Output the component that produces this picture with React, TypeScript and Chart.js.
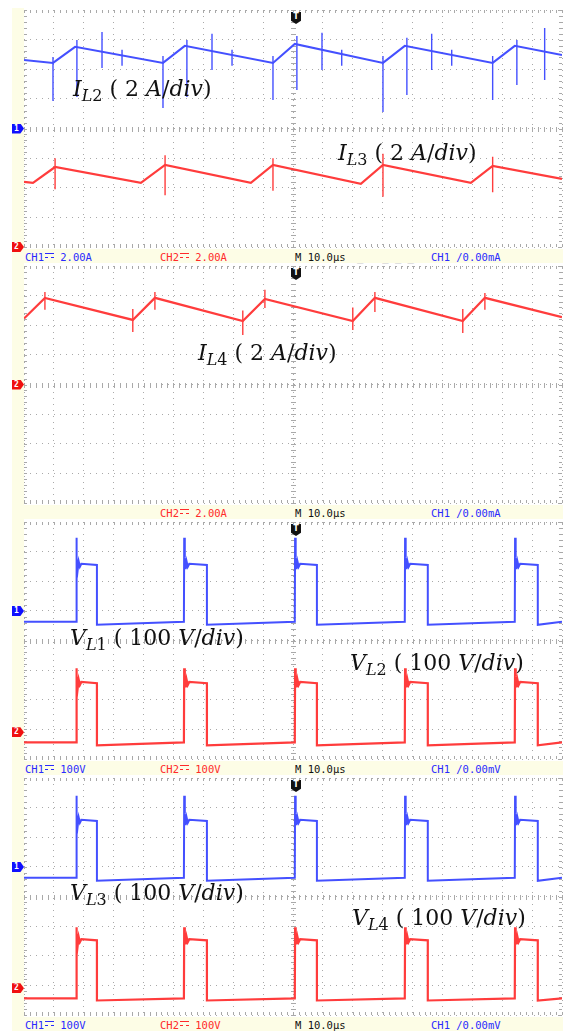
import React, { useEffect, useRef } from "react";
import { Chart, registerables } from "chart.js";

Chart.register(...registerables);

const BLUE = "#4450ff";
const RED = "#ff3c3c";
const GRID = "#a9a9a9";
const CREAM = "#fdfde6";

// Time base: 18 divisions of 10 µs, vertical: 8 divisions
const TIME_MAX = 180;
const TIME_DIV = 10;
const HALF_DIVS = 4;

// ---------- Panel 1: I_L2 (CH1) and I_L3 (CH2), amperes ----------
const iL2Time = [0, 9.7, 17.1, 46.5, 53.8, 83.3, 90.6, 120.1, 127.4, 156.8, 164.2, 180];
const iL2Amps = [4.63, 4.43, 5.51, 4.43, 5.58, 4.43, 5.71, 4.43, 5.58, 4.43, 5.58, 4.96];
const iL2SpikeTime = [9.7, 17.7, 26.1, 32.8, 46.5, 54.5, 62.9, 69.6, 83.3, 91.3, 99.7, 106.3, 120.1, 128.1, 136.4, 143.1, 156.8, 164.9, 174.2];
const iL2SpikeHigh = [4.83, 5.98, 6.52, 5.31, 4.9, 5.98, 6.39, 5.31, 4.9, 6.25, 6.46, 5.31, 4.9, 6.12, 6.39, 5.31, 4.9, 5.98, 6.79];
const iL2SpikeLow = [1.86, 2.13, 4.09, 4.23, 1.39, 2.13, 3.95, 4.23, 1.93, 2.6, 3.95, 4.23, 1.12, 2.26, 3.95, 4.23, 1.93, 2.94, 3.28];

const iL3Time = [0, 3.0, 10.4, 39.1, 47.2, 75.9, 83.3, 112.7, 120.1, 149.5, 156.8, 180];
const iL3Amps = [4.4, 4.33, 5.4, 4.33, 5.54, 4.33, 5.54, 4.26, 5.54, 4.33, 5.47, 4.6];
const iL3SpikeTime = [10.4, 47.2, 83.3, 120.1, 156.8];
const iL3SpikeHigh = [6.0, 6.2, 6.0, 6.3, 6.1];
const iL3SpikeLow = [3.9, 3.5, 3.8, 3.4, 3.7];

// ---------- Panel 2: I_L4 (CH2), amperes ----------
const iL4Time = [0, 7.0, 36.4, 43.8, 73.2, 80.6, 110.0, 117.4, 146.8, 154.2, 180];
const iL4Amps = [4.45, 5.85, 4.36, 5.85, 4.29, 5.78, 4.29, 5.85, 4.29, 5.85, 4.55];
const iL4SpikeTime = [7.0, 36.4, 43.8, 73.2, 80.6, 110.0, 117.4, 146.8, 154.2];
const iL4SpikeHigh = [6.25, 5.1, 6.25, 5.0, 6.39, 5.2, 6.25, 5.1, 6.18];
const iL4SpikeLow = [5.04, 3.55, 5.04, 3.35, 5.17, 3.68, 4.9, 3.48, 5.04];

// ---------- Panels 3 and 4: inductor voltages, volts ----------
const pulseRise = [17.4, 53.5, 90.6, 127.4, 164.2];
const pulseFall = [24.4, 61.2, 98.0, 135.1, 171.9];

// [low, dip after falling edge, high, overshoot at rising edge]
const vL1Levels = [-37, -47, 155, 247];
const vL2Levels = [-34, -44, 166, 216];
const vL3Levels = [-37, -47, 155, 240];
const vL4Levels = [-34, -41, 162, 206];

// ringing just after the overshoot: delay (µs) and excursion from the flat top (V)
const ringDelay = [0.3, 0.6, 0.9, 1.3, 1.8];
const ringSwing = [24, -14, 12, -6, 4];

type Pt = { x: number; y: number | null };

function polyline(t: number[], v: number[]): Pt[] {
  return t.map((x, i) => ({ x, y: v[i] }));
}

function spikes(t: number[], hi: number[], lo: number[]): Pt[] {
  const out: Pt[] = [];
  t.forEach((x, i) => {
    out.push({ x, y: hi[i] }, { x, y: lo[i] }, { x, y: null });
  });
  return out;
}

function pulseTrain(levels: number[]): Pt[] {
  const [low, dip, high, peak] = levels;
  const out: Pt[] = [{ x: 0, y: low }];
  pulseRise.forEach((r, i) => {
    const f = pulseFall[i];
    out.push({ x: r, y: low }, { x: r + 0.1, y: peak });
    ringDelay.forEach((d, k) => out.push({ x: r + d, y: high + ringSwing[k] }));
    out.push({ x: f, y: high }, { x: f, y: dip });
  });
  out.push({ x: TIME_MAX, y: low });
  return out;
}

type Trace = { color: string; axis: "yA" | "yB"; data: Pt[]; width: number };
type Axis = { ground: number; perDiv: number };

type PanelSpec = {
  top: number;
  traces: Trace[];
  axes: { yA: Axis; yB: Axis };
  markers: { ch: 1 | 2; ground: number }[];
  status: { ch1: string; ch2: string; trig: string; extra?: boolean };
  labels: { sym: string; sub: string; num: string; unit: string; left: number; top: number }[];
};

const PANEL_H = 237;

const panels: PanelSpec[] = [
  {
    top: 10,
    traces: [
      { color: BLUE, axis: "yA", data: polyline(iL2Time, iL2Amps), width: 2 },
      { color: BLUE, axis: "yA", data: spikes(iL2SpikeTime, iL2SpikeHigh, iL2SpikeLow), width: 1.4 },
      { color: RED, axis: "yB", data: polyline(iL3Time, iL3Amps), width: 2.2 },
      { color: RED, axis: "yB", data: spikes(iL3SpikeTime, iL3SpikeHigh, iL3SpikeLow), width: 1.4 },
    ],
    axes: { yA: { ground: 0, perDiv: 2 }, yB: { ground: -4, perDiv: 2 } },
    markers: [
      { ch: 1, ground: 0 },
      { ch: 2, ground: -4 },
    ],
    status: { ch1: "CH1", ch2: "CH2", trig: "0.00mA", extra: true },
    labels: [
      { sym: "I", sub: "L2", num: "2", unit: "A", left: 73, top: 76 },
      { sym: "I", sub: "L3", num: "2", unit: "A", left: 338, top: 140 },
    ],
  },
  {
    top: 266,
    traces: [
      { color: RED, axis: "yB", data: polyline(iL4Time, iL4Amps), width: 2.2 },
      { color: RED, axis: "yB", data: spikes(iL4SpikeTime, iL4SpikeHigh, iL4SpikeLow), width: 1.4 },
    ],
    axes: { yA: { ground: 0, perDiv: 2 }, yB: { ground: 0, perDiv: 2 } },
    markers: [{ ch: 2, ground: 0 }],
    status: { ch1: "", ch2: "CH2", trig: "0.00mA" },
    labels: [{ sym: "I", sub: "L4", num: "2", unit: "A", left: 198, top: 340 }],
  },
  {
    top: 522,
    traces: [
      { color: BLUE, axis: "yA", data: pulseTrain(vL1Levels), width: 2 },
      { color: RED, axis: "yB", data: pulseTrain(vL2Levels), width: 2.2 },
    ],
    axes: { yA: { ground: 1, perDiv: 100 }, yB: { ground: -3.1, perDiv: 100 } },
    markers: [
      { ch: 1, ground: 1 },
      { ch: 2, ground: -3.1 },
    ],
    status: { ch1: "CH1", ch2: "CH2", trig: "0.00mV" },
    labels: [
      { sym: "V", sub: "L1", num: "100", unit: "V", left: 70, top: 625 },
      { sym: "V", sub: "L2", num: "100", unit: "V", left: 350, top: 650 },
    ],
  },
  {
    top: 778,
    traces: [
      { color: BLUE, axis: "yA", data: pulseTrain(vL3Levels), width: 2 },
      { color: RED, axis: "yB", data: pulseTrain(vL4Levels), width: 2.2 },
    ],
    axes: { yA: { ground: 1, perDiv: 100 }, yB: { ground: -3.1, perDiv: 100 } },
    markers: [
      { ch: 1, ground: 1 },
      { ch: 2, ground: -3.1 },
    ],
    status: { ch1: "CH1", ch2: "CH2", trig: "0.00mV" },
    labels: [
      { sym: "V", sub: "L3", num: "100", unit: "V", left: 70, top: 880 },
      { sym: "V", sub: "L4", num: "100", unit: "V", left: 352, top: 905 },
    ],
  },
];

const scaleSettings = ["2.00A", "2.00A", "100V", "100V"];

// Graticule ticks on the centre cross and the outer frame
const graticule = {
  id: "graticule",
  beforeDatasetsDraw(chart: any) {
    const { ctx, chartArea, scales } = chart;
    const { left, right, top, bottom } = chartArea;
    const x = scales.x;
    const y = scales.y;
    const cx = Math.round(x.getPixelForValue(TIME_MAX / 2));
    const cy = Math.round(y.getPixelForValue(0));
    ctx.save();
    ctx.fillStyle = GRID;
    for (let i = 0; i <= (TIME_MAX / TIME_DIV) * 5; i++) {
      const px = Math.round(x.getPixelForValue((i * TIME_DIV) / 5));
      ctx.fillRect(px, cy - 2, 1, 5);
      ctx.fillRect(px, top, 1, 3);
      ctx.fillRect(px, bottom - 3, 1, 3);
    }
    for (let i = 0; i <= HALF_DIVS * 2 * 5; i++) {
      const py = Math.round(y.getPixelForValue(-HALF_DIVS + i / 5));
      ctx.fillRect(cx - 2, py, 5, 1);
      ctx.fillRect(left, py, 3, 1);
      ctx.fillRect(right - 3, py, 3, 1);
    }
    ctx.restore();
  },
};

function ScopePanel({ spec }: { spec: PanelSpec }) {
  const ref = useRef<HTMLCanvasElement | null>(null);
  useEffect(() => {
    const axisRange = (a: Axis) => ({
      type: "linear" as const,
      display: false,
      min: (-HALF_DIVS - a.ground) * a.perDiv,
      max: (HALF_DIVS - a.ground) * a.perDiv,
    });
    const chart = new Chart(ref.current!, {
      type: "line",
      data: {
        datasets: spec.traces.map((t) => ({
          data: t.data as any,
          borderColor: t.color,
          borderWidth: t.width,
          pointRadius: 0,
          tension: 0,
          spanGaps: false,
          yAxisID: t.axis,
        })),
      },
      options: {
        animation: false,
        responsive: false,
        devicePixelRatio: 1,
        events: [],
        layout: { padding: 1 },
        plugins: { legend: { display: false }, tooltip: { enabled: false } },
        scales: {
          x: {
            type: "linear",
            min: 0,
            max: TIME_MAX,
            ticks: { display: false, stepSize: TIME_DIV },
            grid: { color: GRID, drawTicks: false, lineWidth: 1 },
            border: { display: false, dash: [1, 5] },
            afterFit: (s: any) => {
              s.height = 0;
            },
          },
          y: {
            type: "linear",
            min: -HALF_DIVS,
            max: HALF_DIVS,
            ticks: { display: false, stepSize: 1 },
            grid: { color: GRID, drawTicks: false, lineWidth: 1 },
            border: { display: false, dash: [1, 5] },
            afterFit: (s: any) => {
              s.width = 0;
            },
          },
          yA: axisRange(spec.axes.yA),
          yB: axisRange(spec.axes.yB),
        },
      },
      plugins: [graticule],
    });
    return () => chart.destroy();
  }, [spec]);
  return (
    <canvas
      ref={ref}
      width={540}
      height={PANEL_H + 2}
      style={{ position: "absolute", left: 23, top: spec.top - 1, width: 540, height: PANEL_H + 2 }}
    />
  );
}

const divPx = PANEL_H / (HALF_DIVS * 2);

function GroundMarker({ ch, y }: { ch: 1 | 2; y: number }) {
  return (
    <div
      style={{
        position: "absolute",
        left: 12,
        top: y - 5,
        width: 12,
        height: 10,
        background: ch === 1 ? "#1010ff" : "#f01010",
        clipPath: "polygon(0 0, 70% 0, 100% 50%, 70% 100%, 0 100%)",
        color: "#fff",
        font: "bold 8px 'DejaVu Sans Mono'",
        lineHeight: "10px",
        paddingLeft: 2,
        boxSizing: "border-box",
      }}
    >
      {ch}
    </div>
  );
}

function TriggerMarker({ top }: { top: number }) {
  return (
    <div
      style={{
        position: "absolute",
        left: 291,
        top,
        width: 10,
        height: 12,
        background: "#111",
        clipPath: "polygon(0 0, 100% 0, 100% 72%, 50% 100%, 0 72%)",
        color: "#fff",
        font: "bold 8px 'DejaVu Sans'",
        lineHeight: "9px",
        textAlign: "center",
      }}
    >
      T
    </div>
  );
}

function DcSign({ color }: { color: string }) {
  return (
    <span
      style={{
        display: "inline-block",
        width: 9,
        height: 3,
        borderTop: `1px solid ${color}`,
        borderBottom: `1px dashed ${color}`,
        verticalAlign: "3px",
        margin: "0 0 0 1px",
      }}
    />
  );
}

function StatusBar({ spec, idx }: { spec: PanelSpec; idx: number }) {
  const top = spec.top + PANEL_H + 2;
  const font = "10.5px 'DejaVu Sans Mono'";
  const base: React.CSSProperties = { position: "absolute", top: 2, font, whiteSpace: "pre", lineHeight: "12px" };
  return (
    <div style={{ position: "absolute", left: 12, top, width: 551, height: 14, background: CREAM }}>
      {spec.status.ch1 && (
        <span style={{ ...base, left: 13, color: "#2a2aff" }}>
          {spec.status.ch1}
          <DcSign color="#2a2aff" />
          {" " + scaleSettings[idx]}
        </span>
      )}
      <span style={{ ...base, left: 148, color: "#ff2a2a" }}>
        {spec.status.ch2}
        <DcSign color="#ff2a2a" />
        {" " + scaleSettings[idx]}
      </span>
      <span style={{ ...base, left: 283, color: "#111" }}>M 10.0µs</span>
      {spec.status.extra && <span style={{ ...base, left: 345, color: "#bbb" }}>_   _ _ _</span>}
      <span style={{ ...base, left: 419, color: "#2a2aff" }}>CH1 /{spec.status.trig}</span>
    </div>
  );
}

function MathLabel({ l }: { l: PanelSpec["labels"][number] }) {
  return (
    <div
      style={{
        position: "absolute",
        left: l.left,
        top: l.top,
        font: "22px 'DejaVu Serif'",
        lineHeight: "25px",
        color: "#111",
        whiteSpace: "nowrap",
      }}
    >
      <i>{l.sym}</i>
      <span style={{ fontSize: 16, position: "relative", top: 5 }}>
        <i>{l.sub[0]}</i>
        {l.sub.slice(1)}
      </span>
      {" ( "}
      {l.num} <i>{l.unit}</i>/<i>div</i>)
    </div>
  );
}

export default function App() {
  return (
    <div style={{ position: "fixed", left: 0, top: 0, width: 563, height: 1031, background: "#fff", overflow: "hidden" }}>
      <div style={{ position: "absolute", left: 12, top: 8, width: 12, height: 1023, background: CREAM }} />
      {panels.map((p, i) => (
        <React.Fragment key={i}>
          <ScopePanel spec={p} />
          <StatusBar spec={p} idx={i} />
          <TriggerMarker top={p.top + 2} />
          {p.markers.map((m, j) => (
            <GroundMarker key={j} ch={m.ch} y={p.top + PANEL_H / 2 - m.ground * divPx} />
          ))}
          {p.labels.map((l, j) => (
            <MathLabel key={j} l={l} />
          ))}
        </React.Fragment>
      ))}
    </div>
  );
}
